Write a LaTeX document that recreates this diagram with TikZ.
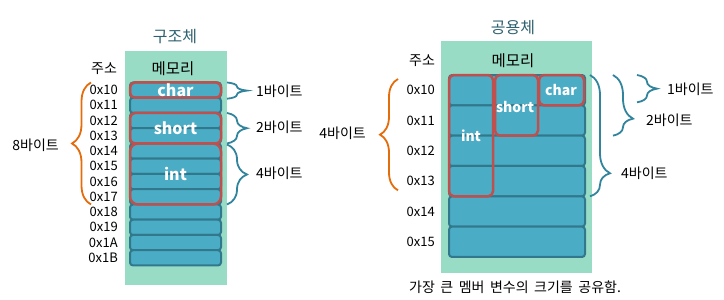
\documentclass[tikz,border=0pt]{standalone}
\usepackage{fontspec}
\setmainfont{Noto Sans CJK KR}
\usetikzlibrary{calc,positioning,decorations.pathreplacing}
\definecolor{bgmint}{HTML}{98DCC6}
\definecolor{cellfill}{HTML}{4BACC6}
\definecolor{celledge}{HTML}{31788C}
\definecolor{memred}{HTML}{C0504D}
\definecolor{bracecol}{HTML}{31849B}
\definecolor{braceorg}{HTML}{E46C0A}
\definecolor{titlecol}{HTML}{2E6170}
\tikzset {
  every node/.style={font=\fontsize{13}{13}\selectfont},
  cell/.style={draw=celledge,fill=cellfill,line width=2pt,rounded corners=3pt,
    minimum width=91pt,minimum height=15.25pt,inner sep=0pt,outer sep=0pt},
  membox/.style={draw=memred,line width=2.5pt,rounded corners=5pt},
  lbl/.style={text=white,inner sep=0pt,font=\bfseries\fontsize{16}{16}\selectfont},
  addr/.style={inner sep=0pt},
  head/.style={font=\fontsize{15.5}{15.5}\selectfont},
  title/.style={text=titlecol,font=\fontsize{16}{16}\selectfont},
  bytes/.style={inner sep=0pt,font=\fontsize{14}{14}\selectfont},
  tbrace/.style={draw=bracecol,line width=1.8pt,decorate,decoration={brace,amplitude=20pt}},
  obrace/.style={draw=braceorg,line width=1.8pt,decorate,decoration={brace,amplitude=19pt}},
}
\begin{document}
\begin{tikzpicture}[x=1pt,y=-1pt]
  \useasboundingbox (0,0) rectangle (724,300);
  % 구조체
  \fill[bgmint] (125,51) rectangle (227,285);
  \node[title] (stitle) at (175,37) {구조체};
  \node[head,font=\fontsize{14}{14}\selectfont] (saddr) at (104,69) {주소};
  \node[head] (smem) at (173,69) {메모리};
  \foreach \i/\a in {0/10,1/11,2/12,3/13,4/14,5/15,6/16,7/17,8/18,9/19,10/1A,11/1B} {
    \node[cell] (s\i) at (175.5,{90.1+15.25*\i}) {};
    \node[addr,left=12pt of s\i] (sa\i) {0x\a};
  }
  \draw[membox] (s0.north west) rectangle (s0.south east);
  \draw[membox] (s2.north west) rectangle (s3.south east);
  \draw[membox,rounded corners=8pt] (s4.north west) rectangle (s7.south east);
  \node[lbl] (schar) at (s0) {char};
  \node[lbl] (sshort) at (s2.south) {short};
  \node[lbl] (sint) at ($(s4)!0.5!(s7)$) {int};
  \draw[obrace] ($(s7.south west)+(-39,0)$) -- ($(s0.north west)+(-39,0)$);
  \node[bytes,anchor=east] (sb8) at (59,145) {8바이트};
  \draw[tbrace] ($(s0.north east)+(6,0)$) -- ($(s0.south east)+(6,1)$);
  \draw[tbrace] ($(s2.north east)+(6,0)$) -- ($(s3.south east)+(6,0)$);
  \draw[tbrace] ($(s4.north east)+(6,1)$) -- ($(s7.south east)+(6,0)$);
  \node[bytes,anchor=west] (sb1) at (256,91) {1바이트};
  \node[bytes,anchor=west] (sb2) at (256,127) {2바이트};
  \node[bytes,anchor=west] (sb4) at (256,173) {4바이트};
  % 공용체
  \fill[bgmint] (441,41) rectangle (592,273);
  \node[title] (utitle) at (513,28) {공용체};
  \node[head,font=\fontsize{14}{14}\selectfont] (uaddr) at (422,61) {주소};
  \node[head] (umem) at (513,61) {메모리};
  \foreach \i/\a in {0/10,1/11,2/12,3/13,4/14,5/15} {
    \node[cell,minimum width=136pt,minimum height=30.33pt] (u\i) at (517,{90.17+30.33*\i}) {};
    \node[addr,left=14pt of u\i] (ua\i) {0x\a};
  }
  \draw[membox] (u0.north west) rectangle ($(u3.south west)+(44,0)$);
  \draw[membox] ($(u0.north west)+(46,0)$) rectangle ($(u1.south west)+(89,0)$);
  \draw[membox] ($(u0.north west)+(90,0)$) rectangle ($(u0.south east)+(-1,0)$);
  \node[lbl,font=\bfseries\fontsize{14}{14}\selectfont] (uchar) at ($(u0)+(44,0)$) {char};
  \node[lbl,font=\bfseries\fontsize{14}{14}\selectfont] (ushort) at ($(u0.south west)+(66,2)$) {short};
  \node[lbl,font=\bfseries\fontsize{14}{14}\selectfont] (uint) at ($(u1.south west)+(22,0)$) {int};
  \draw[obrace,decoration={amplitude=18pt}] ($(u3.south west)+(-51,-6)$) -- ($(u0.north west)+(-51,4)$);
  \node[bytes,anchor=east] (ub8) at (366,133) {4바이트};
  \draw[tbrace,decoration={aspect=0.81}] ($(u0.north east)+(5,0)$) -- ($(u3.south east)+(5,0)$);
  \draw[tbrace,decoration={aspect=0.72}] ($(u0.north east)+(28,0)$) -- ($(u1.south east)+(28,0)$);
  \draw[tbrace] ($(u0.north east)+(52,0)$) -- ($(u0.south east)+(52,-3)$);
  \node[bytes,anchor=west] (ub1) at (667,89) {1바이트};
  \node[bytes,anchor=west] (ub2) at (646,120) {2바이트};
  \node[bytes,anchor=west] (ub4) at (621,173) {4바이트};
  \node[bytes,anchor=west] (cap) at (409,287) {\spaceskip=5.5pt 가장 큰 멤버 변수의 크기를 공유함.};
\end{tikzpicture}
\end{document}
